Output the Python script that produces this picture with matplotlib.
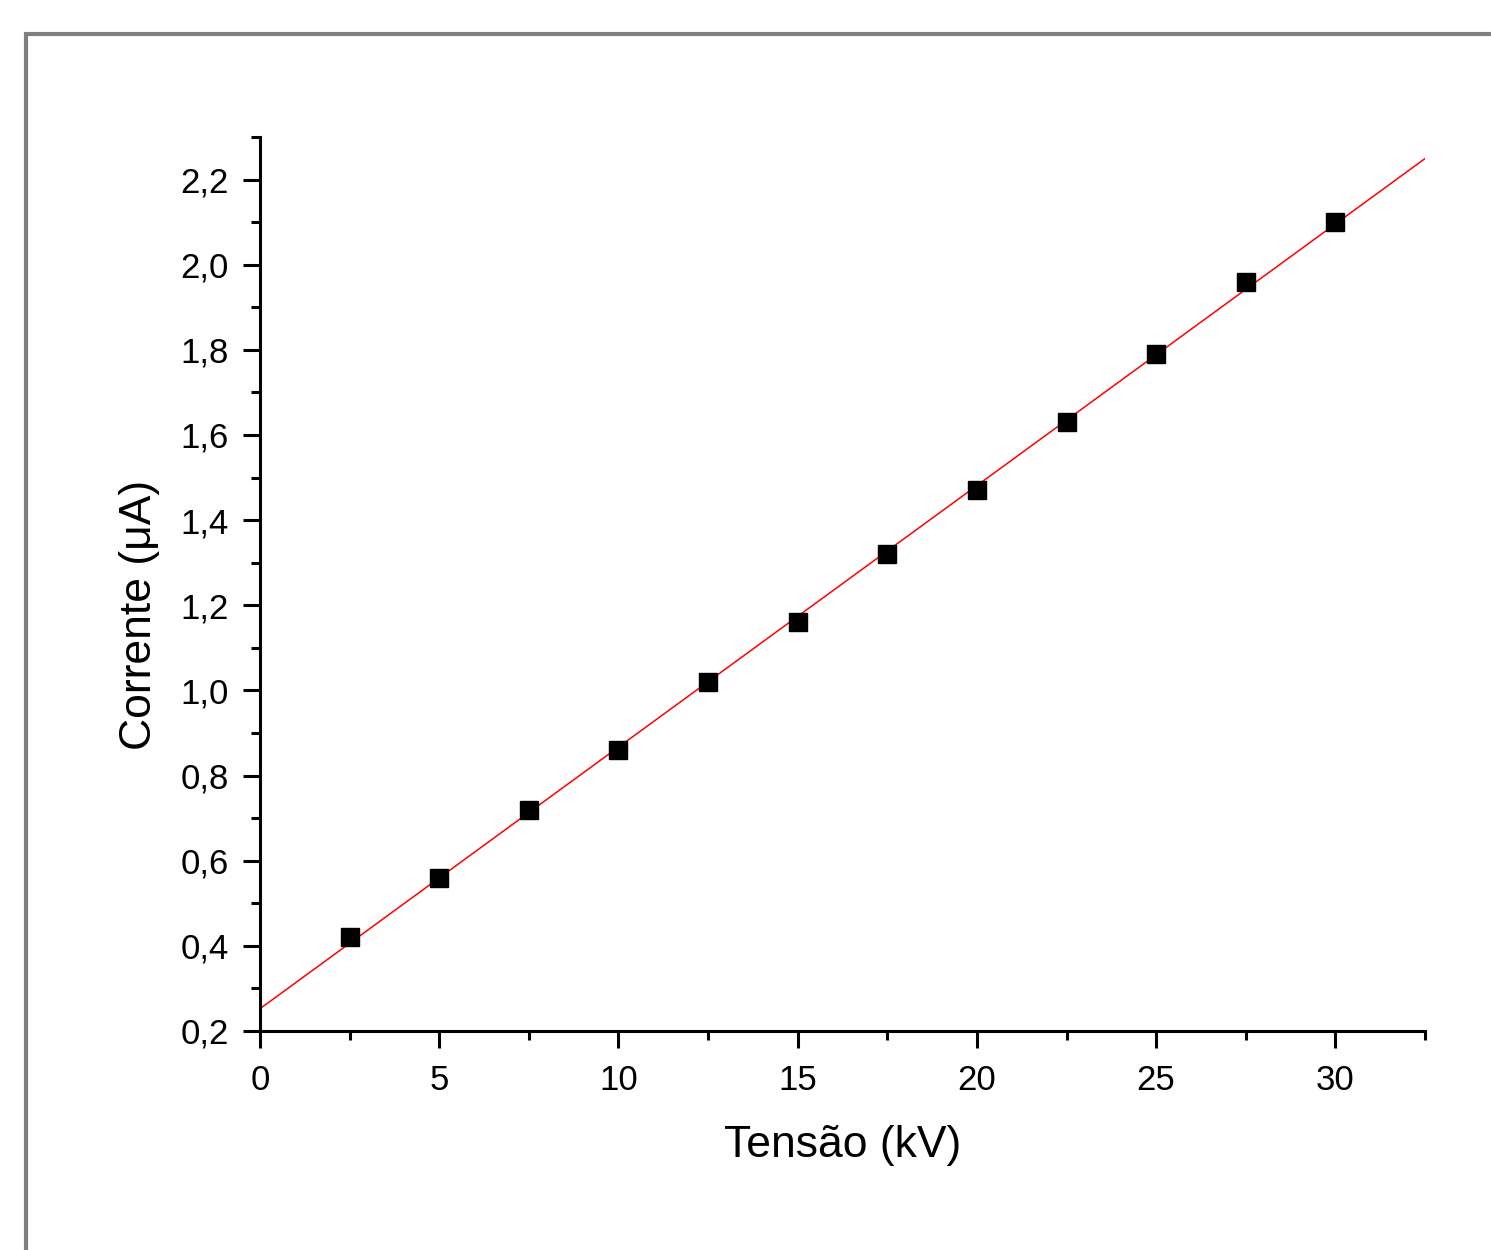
import numpy as np
import matplotlib
matplotlib.use("Agg")
import matplotlib.pyplot as plt
from matplotlib.patches import Rectangle
from matplotlib.ticker import MultipleLocator, FuncFormatter

plt.rcParams['font.family'] = ['Liberation Sans', 'DejaVu Sans']

# measured data: voltage (kV) vs current (uA)
tensao = [2.5, 5, 7.5, 10, 12.5, 15, 17.5, 20, 22.5, 25, 27.5, 30]
corrente = [0.42, 0.56, 0.72, 0.86, 1.02, 1.16, 1.32, 1.47, 1.63, 1.79, 1.96, 2.10]

fig = plt.figure(figsize=(14.91, 12.5), dpi=100)
ax = fig.add_axes([0.1744, 0.1752, 0.7813, 0.7152])

ax.set_xlim(0, 32.5)
ax.set_ylim(0.2, 2.3)

# linear fit over the full x range
slope, intercept = np.polyfit(tensao, corrente, 1)
xfit = np.array(ax.get_xlim())
ax.plot(xfit, slope * xfit + intercept, color='red', lw=1.1, zorder=2)

ax.plot(tensao, corrente, 's', color='black', ms=13, zorder=3, clip_on=False)

ax.spines['top'].set_visible(False)
ax.spines['right'].set_visible(False)
for s in ('left', 'bottom'):
    ax.spines[s].set_linewidth(2.2)

ax.xaxis.set_major_locator(MultipleLocator(5))
ax.xaxis.set_minor_locator(MultipleLocator(2.5))
ax.yaxis.set_major_locator(MultipleLocator(0.2))
ax.yaxis.set_minor_locator(MultipleLocator(0.1))
ax.yaxis.set_major_formatter(FuncFormatter(lambda v, p: f"{v:.1f}".replace('.', ',')))

ax.tick_params(which='major', direction='out', length=12.5, width=2.2, labelsize=25)
ax.tick_params(axis='x', which='major', pad=11)
ax.tick_params(axis='y', which='major', pad=10)
ax.tick_params(which='minor', direction='out', length=6.5, width=2.2)

ax.set_xlabel('Tensão (kV)', fontsize=32)
ax.set_ylabel('Corrente (μA)', fontsize=32)
ax.xaxis.set_label_coords(0.5, -0.105)
ax.yaxis.set_label_coords(-0.086, 0.465)

# gray page frame running off the right and bottom edges
fig.add_artist(Rectangle((25.5 / 1491, -0.1), 1.2, 1.1 - 34 / 1250,
                         transform=fig.transFigure, fill=False,
                         edgecolor='#808080', lw=3))

fig.savefig('out.png', dpi=100)
